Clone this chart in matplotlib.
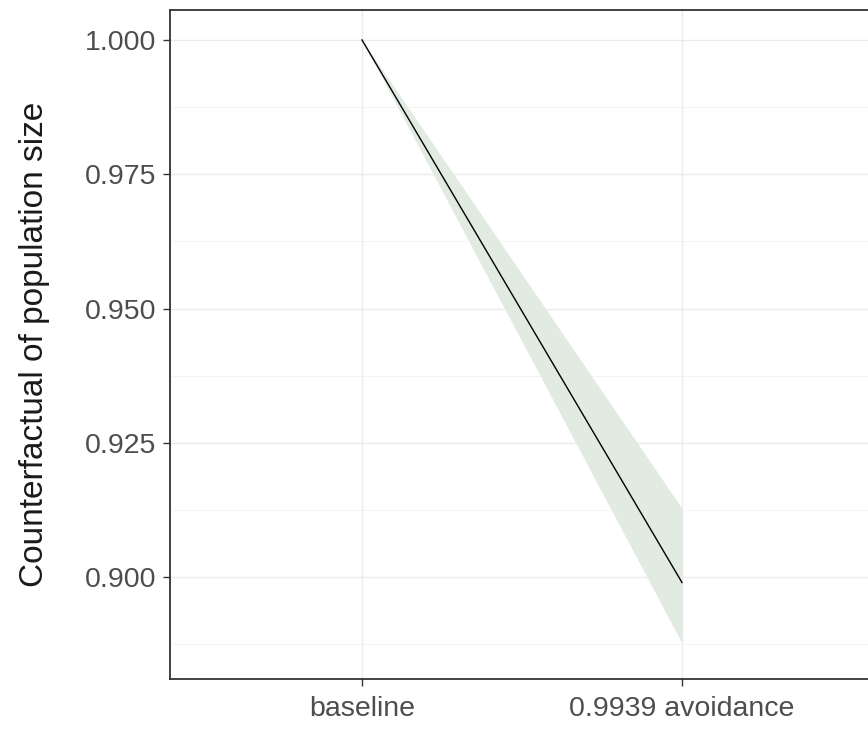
import matplotlib
matplotlib.use("Agg")
import matplotlib.pyplot as plt
from matplotlib.ticker import FixedLocator

plt.rcParams['font.family'] = ['Liberation Sans', 'DejaVu Sans']

categories = ["baseline", "0.9939 avoidance"]
mean_values = [1.000, 0.899]
lower_values = [1.000, 0.8877]
upper_values = [1.000, 0.9128]
y_ticks = [0.900, 0.925, 0.950, 0.975, 1.000]

W, H = 868, 729
fig = plt.figure(figsize=(W / 100, H / 100), dpi=100)
left, right, top, bottom = 170, 874, 9.5, 679
ax = fig.add_axes([left / W, (H - bottom) / H, (right - left) / W, (bottom - top) / H])

x = list(range(1, len(categories) + 1))
ax.fill_between(x, lower_values, upper_values, color='#e1ebe1', linewidth=0, zorder=2)
ax.plot(x, mean_values, color='black', linewidth=1.0, zorder=3)

ax.set_xlim(0.4, len(categories) + 0.6)
ax.set_ylim(0.9 - 102 / 5380, 1.0 + 30.5 / 5380)
ax.set_xticks(x)
ax.set_xticklabels(categories)
ax.yaxis.set_major_locator(FixedLocator(y_ticks))
ax.set_yticklabels([f"{v:.3f}" for v in y_ticks])
ax.yaxis.set_minor_locator(FixedLocator([0.8875, 0.9125, 0.9375, 0.9625, 0.9875]))

ax.grid(True, which='major', color='#ebebeb', linewidth=1.0, zorder=0)
ax.grid(True, which='minor', axis='y', color='#f3f3f3', linewidth=0.6, zorder=0)
ax.set_axisbelow(True)
ax.tick_params(which='minor', length=0)
ax.tick_params(which='major', length=5, width=1, color='#333333', labelcolor='#4d4d4d',
               labelsize=20.5)
ax.tick_params(axis='y', pad=5)
ax.tick_params(axis='x', pad=7)
for s in ax.spines.values():
    s.set_color('#333333')
    s.set_linewidth(1.3)

ax.set_ylabel("Counterfactual of population size", fontsize=24, color='#1a1a1a', labelpad=25)

fig.savefig("out.png", dpi=100)
